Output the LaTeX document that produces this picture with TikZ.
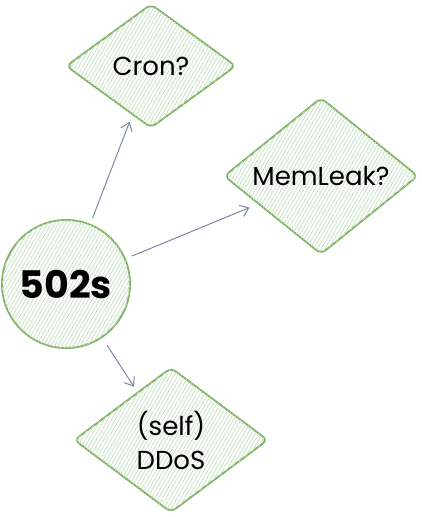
\documentclass[tikz,border=0pt]{standalone}
\usepackage{fontspec}
\setmainfont{Poppins}
\usetikzlibrary{shapes.geometric,patterns.meta,arrows.meta}
\definecolor{gstroke}{HTML}{82B366}
\definecolor{ghatch}{HTML}{C9E2C4}
\definecolor{arrowc}{HTML}{788AA3}
\tikzset{
  hatched/.style={fill=white, postaction={pattern={Lines[angle=60,distance=3.2pt,line width=0.8pt]}, pattern color=ghatch}},
  decision/.style={shape=diamond, draw=gstroke, line width=1.9pt, rounded corners=6pt, hatched, inner sep=0pt, font=\fontsize{26}{34}\selectfont, align=center},
  startnode/.style={shape=circle, draw=gstroke, line width=1.9pt, hatched, minimum size=128pt, inner sep=0pt, font=\fontsize{38}{40}\selectfont\bfseries},
  link/.style={draw=arrowc, line width=1pt, -{Straight Barb[length=8pt,width=12pt]}}
}
\begin{document}
\begin{tikzpicture}[x=1pt,y=-1pt]
\useasboundingbox (0,0) rectangle (422,517);
\node[startnode] (s) at (66,284) {502s};
\node[decision, minimum width=170pt, minimum height=124pt] (cron) at (151,66) {Cron?};
\node[decision, minimum width=194pt, minimum height=147pt] (mem) at (321,176) {MemLeak?};
\node[decision, minimum width=194pt, minimum height=145pt] (ddos) at (171,440) {(self)\\DDoS};
\draw[link, shorten <=6pt, shorten >=7pt] (s.68) -- (cron.249);
\draw[link, shorten <=7pt, shorten >=9pt] (s.23) -- (mem.204);
\draw[link, shorten <=9pt, shorten >=6pt] (s.-56) -- (ddos.125);
\end{tikzpicture}
\end{document}
